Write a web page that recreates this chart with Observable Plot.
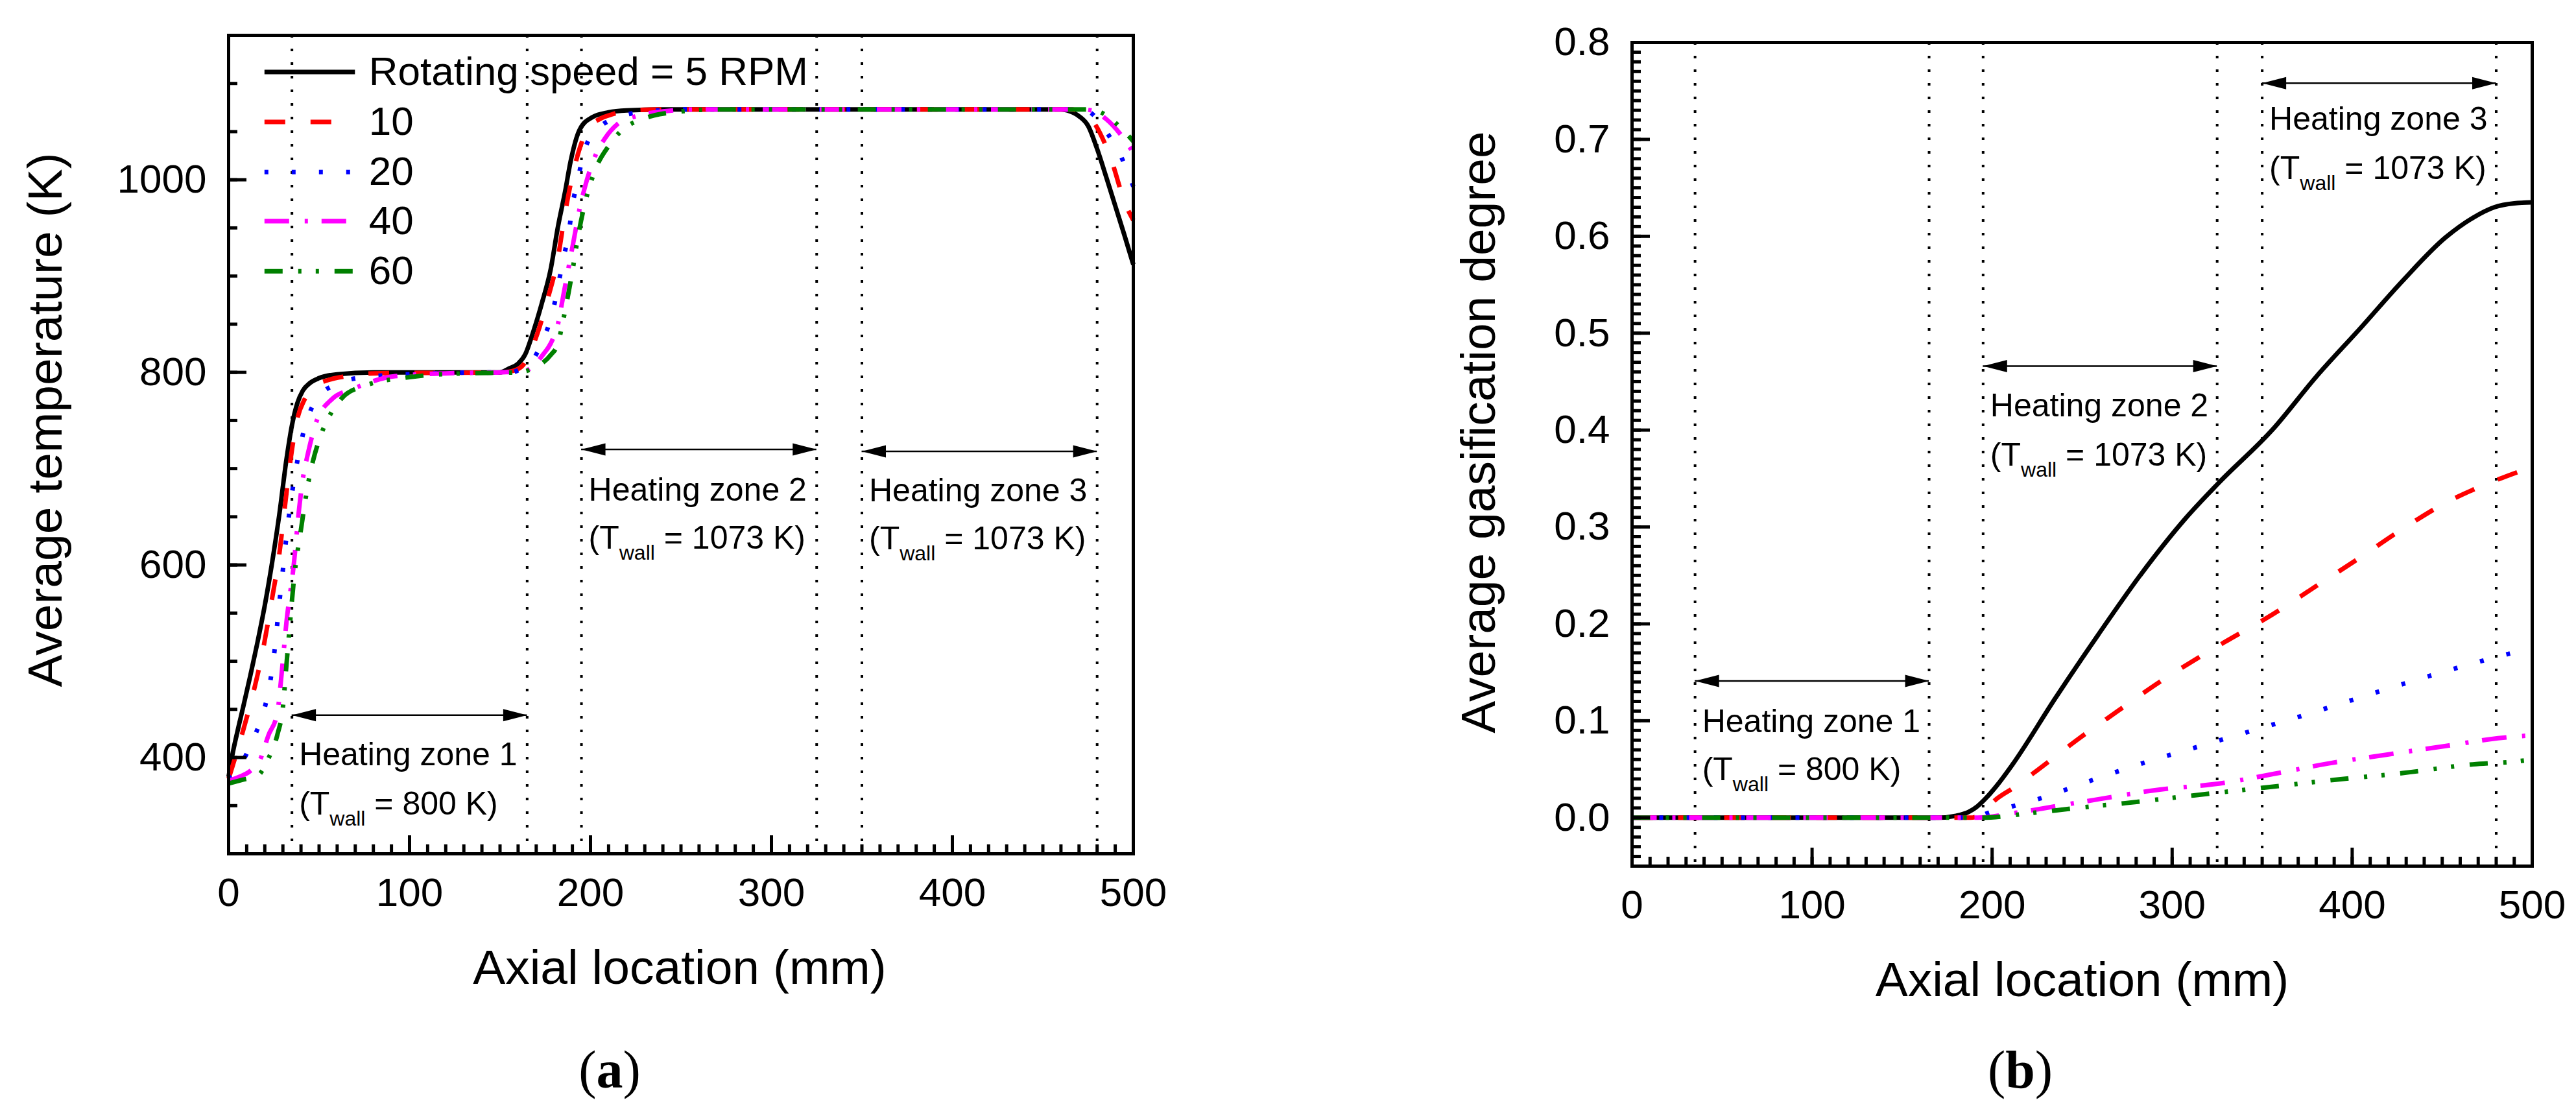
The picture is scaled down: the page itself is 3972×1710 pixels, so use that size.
<!DOCTYPE html>
<html>
<head>
<meta charset="utf-8">
<script src="https://cdn.jsdelivr.net/npm/d3@7"></script>
<script src="https://cdn.jsdelivr.net/npm/@observablehq/plot@0.6"></script>
<style>
  body { margin: 0; background: #fff; }
  #wrap { display: flex; width: 3972px; }
  .col { width: 1986px; }
  .cap { font-family: "Liberation Serif", "Times New Roman", serif; font-size: 82px; line-height: 100px; text-align: center; color: #000; }
</style>
</head>
<body>
<div id="wrap">
  <div class="col"><div id="chartA"></div><div class="cap" style="padding-right:106px">(<b>a</b>)</div></div>
  <div class="col"><div id="chartB"></div><div class="cap" style="padding-left:272px">(<b>b</b>)</div></div>
</div>
<script>
// series names (rotating speed)
const names = ["Rotating speed = 5 RPM", "10", "20", "40", "60"];

// (a) average temperature (K) vs axial location (mm)
const xA5  = [0, 2, 5, 8, 12, 16, 20, 24, 28, 32, 35, 38, 41, 45, 50, 60, 80, 150, 155, 160, 164, 168, 173, 178, 182, 186, 189, 194, 201, 210, 220, 240, 460, 465, 470, 475, 480, 485, 490, 495, 500];
const tA5  = [380, 402, 428, 452, 485, 520, 558, 602, 652, 710, 745, 768, 781, 789, 794, 798, 800, 800, 804, 809, 819, 840, 871, 907, 951, 988, 1019, 1052, 1065, 1070, 1072, 1073, 1073, 1071, 1066, 1056, 1032, 1003, 973, 943, 912];
const xA10 = [0, 2, 8, 14, 19, 24, 28, 31, 34, 38, 42, 47, 55, 65, 80, 150, 156, 162, 168, 172, 176, 182, 186, 191, 195, 199, 205, 212, 222, 240, 465, 470, 478, 487, 496, 500];
const tA10 = [378, 390, 428, 470, 512, 565, 611, 659, 706, 752, 772, 785, 792, 796, 799, 800, 801, 806, 827, 848, 874, 919, 966, 1012, 1038, 1054, 1063, 1068, 1072, 1073, 1073, 1071, 1060, 1025, 973, 958];
const xA20 = [0, 4, 8, 15, 20, 23, 25, 28, 30, 32, 35, 38, 41, 45, 50, 60, 75, 100, 150, 156, 161, 167, 174, 179, 182, 185, 188, 190, 193, 196, 203, 217, 232, 250, 470, 476, 485, 493, 500];
const tA20 = [378, 385, 397, 425, 452, 479, 505, 560, 595, 630, 674, 708, 735, 759, 775, 788, 795, 798, 800, 800, 803, 810, 835, 862, 889, 918, 945, 973, 1000, 1026, 1051, 1066, 1071, 1073, 1073, 1070, 1050, 1025, 993];
const xA40 = [0, 6, 12, 17, 22, 27, 29, 32, 36, 39, 41, 44, 48, 57, 69, 92, 120, 150, 163, 168, 174, 178, 182, 185, 188, 191, 194, 197, 202, 208, 215, 225, 240, 260, 472, 477, 485, 493, 500];
const tA40 = [376, 380, 386, 396, 423, 447, 481, 541, 600, 659, 689, 717, 746, 772, 783, 796, 799, 800, 801, 806, 819, 830, 850, 880, 910, 940, 970, 993, 1022, 1043, 1058, 1066, 1071, 1073, 1073, 1072, 1063, 1047, 1028];
const xA60 = [0, 8, 16, 22, 27, 30, 32, 34, 36, 40, 44, 51, 55, 63, 75, 100, 130, 160, 167, 173, 178, 182, 185, 187, 190, 193, 196, 199, 203, 210, 216, 230, 250, 270, 476, 485, 493, 500];
const tA60 = [373, 377, 381, 399, 424, 452, 497, 541, 583, 637, 685, 735, 752, 774, 786, 795, 799, 800, 803, 809, 818, 830, 855, 874, 905, 940, 968, 990, 1012, 1035, 1049, 1064, 1071, 1073, 1073, 1067, 1054, 1040];

// (b) average gasification degree vs axial location (mm)
const xB5  = [0, 170, 180, 187, 192, 197, 203, 211, 235, 259, 283, 307.5, 325.6, 356, 380, 404, 428, 452, 467, 479, 490, 500];
const gB5  = [0, 0, 0.002, 0.006, 0.012, 0.021, 0.034, 0.054, 0.123, 0.189, 0.252, 0.309, 0.345, 0.401, 0.455, 0.504, 0.554, 0.599, 0.619, 0.63, 0.634, 0.635];
const xB10 = [0, 188, 195, 201, 212, 223, 235, 247, 269, 293, 329, 356, 380, 404, 428, 452, 481, 500];
const gB10 = [0, 0, 0.005, 0.017, 0.031, 0.046, 0.063, 0.08, 0.109, 0.14, 0.181, 0.21, 0.239, 0.268, 0.298, 0.325, 0.349, 0.362];
const xB20 = [0, 190, 198, 212, 227, 256, 285, 314, 343, 372, 401, 430, 459, 489, 500];
const gB20 = [0, 0, 0.005, 0.012, 0.02, 0.039, 0.057, 0.073, 0.089, 0.105, 0.122, 0.139, 0.155, 0.17, 0.175];
const xB40 = [0, 192, 213, 236, 259, 289, 329, 356, 387, 419, 452, 481, 500];
const gB40 = [0, 0, 0.005, 0.012, 0.019, 0.028, 0.036, 0.045, 0.056, 0.065, 0.074, 0.082, 0.085];
const xB60 = [0, 194, 223, 247, 274, 312, 351, 390, 428, 467, 491, 500];
const gB60 = [0, 0, 0.005, 0.01, 0.015, 0.023, 0.031, 0.039, 0.046, 0.055, 0.058, 0.06];

// heating zones (mm)
const zoneLines = [35, 165, 195, 325, 350, 480];
const zoneStart = [35, 195, 350];
const zoneEnd = [165, 325, 480];
const zoneTitle = ["Heating zone 1", "Heating zone 2", "Heating zone 3"];
const zoneWall = ["(T_wall = 800 K)", "(T_wall = 1073 K)", "(T_wall = 1073 K)"];

// ticks
const xMajor = [0, 100, 200, 300, 400, 500];
const xMinor = d3.range(0, 501, 10);
const tMajor = [400, 600, 800, 1000];
const tMinor = d3.range(300, 1151, 50);
const gMajor = [0, 0.1, 0.2, 0.3, 0.4, 0.5, 0.6, 0.7, 0.8];
const gMinor = d3.range(-50, 801, 10).map(v => v / 1000);

// styles
const colors = ["#000000", "#ff0000", "#0000ff", "#ff00ff", "#008000"];
const dashes = [undefined, "32,39", "6,36", "38,24,5,21", "28,24,5,22,5,24"];
const font = "'Liberation Sans', Arial, Helvetica, sans-serif";

// filled arrow heads
const headLeft = {draw(c) { c.moveTo(0, 0); c.lineTo(37, -9.5); c.lineTo(37, 9.5); c.closePath(); }};
const headRight = {draw(c) { c.moveTo(0, 0); c.lineTo(-37, -9.5); c.lineTo(-37, 9.5); c.closePath(); }};

const rows = (xs, ys) => xs.map((x, i) => ({x, y: ys[i]}));

function makeChart(cfg) {
  const zones = zoneStart.map((s, i) => ({
    s, e: zoneEnd[i], a: cfg.arrowY[i], t: cfg.titleY[i], w: cfg.wallY[i],
    title: zoneTitle[i], wall: zoneWall[i]
  }));
  const marks = [
    Plot.ruleX(zoneLines, {stroke: "black", strokeWidth: 4, strokeDasharray: "4,17"}),
    ...cfg.series.map(([xs, ys], i) => Plot.line(rows(xs, ys), {
      x: "x", y: "y", stroke: colors[i], strokeWidth: 7, strokeDasharray: dashes[i],
      curve: "monotone-x", strokeLinecap: "butt", strokeLinejoin: "round"
    })),
    Plot.ruleY(zones, {x1: "s", x2: "e", y: "a", stroke: "black", strokeWidth: 2.5}),
    Plot.dot(zones, {x: "s", y: "a", symbol: headLeft, fill: "black", stroke: "none", r: 1}),
    Plot.dot(zones, {x: "e", y: "a", symbol: headRight, fill: "black", stroke: "none", r: 1}),
    Plot.text(zones, {x: "s", y: "t", text: "title", dx: 11, textAnchor: "start", lineAnchor: "bottom", fontSize: 50}),
    Plot.text(zones, {x: "s", y: "w", text: "wall", dx: 11, textAnchor: "start", lineAnchor: "bottom", fontSize: 50})
  ];
  if (cfg.legendY) {
    names.forEach((n, i) => {
      marks.push(Plot.ruleY([cfg.legendY[i]], {x1: 20, x2: 70, stroke: colors[i], strokeWidth: 7, strokeDasharray: dashes[i]}));
    });
    marks.push(Plot.text(names, {x: 77.5, y: (d, i) => cfg.legendY[i], text: d => d, textAnchor: "start", lineAnchor: "middle", fontSize: 62}));
  }
  marks.push(
    Plot.axisX(xMinor, {tickSize: -14, strokeWidth: 5, tickFormat: () => "", label: null}),
    Plot.axisX(xMajor, {tickSize: -28, strokeWidth: 5, tickPadding: 64, fontSize: 62, tickFormat: d3.format("d"), label: null}),
    Plot.axisY(cfg.yMinor, {tickSize: -14, strokeWidth: 5, tickFormat: () => "", label: null}),
    Plot.axisY(cfg.yMajor, {tickSize: -28, strokeWidth: 5, tickPadding: 62, fontSize: 62, tickFormat: cfg.fmt, label: null}),
    Plot.text([cfg.xLabel], {text: d => d, frameAnchor: "bottom", dy: cfg.xTitle.dy, dx: cfg.xTitle.dx, lineAnchor: "bottom", fontSize: 75}),
    Plot.text([cfg.yLabel], {text: d => d, frameAnchor: "left", rotate: -90, dx: cfg.yTitle.dx, dy: cfg.yTitle.dy, lineAnchor: "bottom", textAnchor: "middle", fontSize: 75}),
    Plot.frame({stroke: "black", strokeWidth: 5})
  );
  const svg = Plot.plot({
    width: 1986, height: 1600,
    marginTop: cfg.m[0], marginRight: cfg.m[1], marginBottom: cfg.m[2], marginLeft: cfg.m[3],
    style: {fontFamily: font, fontSize: "60px", color: "black", background: "white"},
    x: {domain: [0, 500]},
    y: {domain: cfg.yDomain},
    marks
  });
  subscriptWall(svg);
  return svg;
}

// turn "T_wall" into T with a subscript
function subscriptWall(svg) {
  const ns = "http://www.w3.org/2000/svg";
  svg.querySelectorAll("text").forEach(t => {
    const s = t.textContent;
    if (!s.includes("_wall")) return;
    const [pre, post] = s.split("_wall");
    t.textContent = "";
    const a = document.createElementNS(ns, "tspan");
    a.textContent = pre;
    const b = document.createElementNS(ns, "tspan");
    b.textContent = "wall";
    b.setAttribute("font-size", "32");
    b.setAttribute("dy", "17");
    const c = document.createElementNS(ns, "tspan");
    c.textContent = post;
    c.setAttribute("dy", "-17");
    t.append(a, b, c);
  });
}

document.getElementById("chartA").append(makeChart({
  m: [54, 239, 284, 352],
  yDomain: [300, 1150],
  yMajor: tMajor, yMinor: tMinor, fmt: d3.format("d"),
  series: [[xA5, tA5], [xA10, tA10], [xA20, tA20], [xA40, tA40], [xA60, tA60]],
  arrowY: [444, 720, 718], titleY: [392, 667, 666], wallY: [341, 617, 616],
  legendY: [1112, 1060, 1008, 957, 905],
  xLabel: "Axial location (mm)", yLabel: "Average temperature (K)",
  xTitle: {dx: -2, dy: 200}, yTitle: {dx: -258, dy: -38}
}));

document.getElementById("chartB").append(makeChart({
  m: [65, 68, 265, 530],
  yDomain: [-0.05, 0.8],
  yMajor: gMajor, yMinor: gMinor, fmt: d3.format(".1f"),
  series: [[xB5, gB5], [xB10, gB10], [xB20, gB20], [xB40, gB40], [xB60, gB60]],
  arrowY: [0.141, 0.466, 0.758], titleY: [0.088, 0.414, 0.71], wallY: [0.039, 0.363, 0.659],
  xLabel: "Axial location (mm)", yLabel: "Average gasification degree",
  xTitle: {dx: 0, dy: 200}, yTitle: {dx: -212, dy: -34}
}));
</script>
</body>
</html>
